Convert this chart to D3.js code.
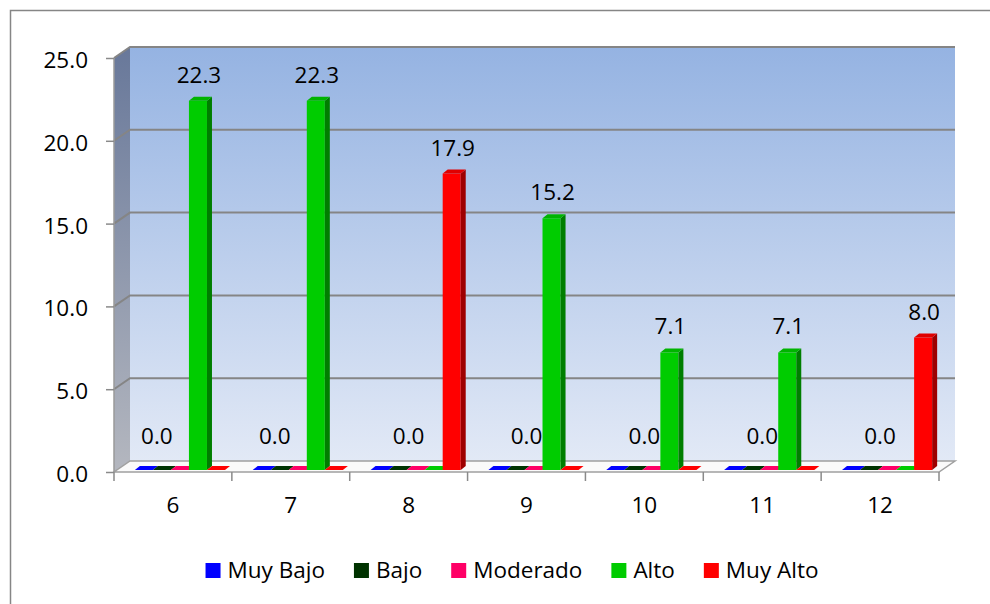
<!DOCTYPE html>
<html>
<head>
<meta charset="utf-8">
<script src="https://cdn.jsdelivr.net/npm/d3@7"></script>
<style>
  body { margin: 0; background: #fff; }
  svg text { font-family: "Open Sans", sans-serif; fill: #000; }
</style>
</head>
<body>
<svg id="chart" width="990" height="604"></svg>
<script>
// grados (categorias)
var categories = [ '6', '7', '8', '9', '10', '11', '12' ];
var seriesNames = [ 'Muy Bajo', 'Bajo', 'Moderado', 'Alto', 'Muy Alto' ];
var seriesColors = [ '#0000ff', '#003300', '#ff0066', '#00cc00', '#ff0000' ];
var muyBajo = [ 0, 0, 0, 0, 0, 0, 0 ];
var bajo = [ 0, 0, 0, 0, 0, 0, 0 ];
var moderado = [ 0, 0, 0, 0, 0, 0, 0 ];
var alto = [ 22.3, 22.3, 0, 15.2, 7.1, 7.1, 0 ];
var muyAlto = [ 0, 0, 17.9, 0, 0, 0, 8.0 ];
var yTicks = [ 0, 5, 10, 15, 20, 25 ];

var seriesValues = [ muyBajo, bajo, moderado, alto, muyAlto ];
var FS = 22.5;

var svg = d3.select( '#chart' );

// marco exterior
svg.append( 'rect' )
  .attr( 'x', 10.5 ).attr( 'y', 10.5 )
  .attr( 'width', 1200 ).attr( 'height', 800 )
  .attr( 'fill', '#fff' ).attr( 'stroke', '#868686' ).attr( 'stroke-width', 1.5 );

var x = d3.scaleBand().domain( categories ).range( [ 114, 939 ] );
var y = d3.scaleLinear().domain( [ 0, 25 ] ).range( [ 472, 58 ] );

// profundidad 3D
var DX = 16, DY = -11;

var defs = svg.append( 'defs' );
var wallGrad = defs.append( 'linearGradient' ).attr( 'id', 'wall' )
  .attr( 'x1', 0 ).attr( 'y1', 0 ).attr( 'x2', 0 ).attr( 'y2', 1 );
wallGrad.append( 'stop' ).attr( 'offset', '0%' ).attr( 'stop-color', '#95b3e2' );
wallGrad.append( 'stop' ).attr( 'offset', '100%' ).attr( 'stop-color', '#e2e9f6' );
var sideGrad = defs.append( 'linearGradient' ).attr( 'id', 'side' )
  .attr( 'x1', 0 ).attr( 'y1', 0 ).attr( 'x2', 0 ).attr( 'y2', 1 );
sideGrad.append( 'stop' ).attr( 'offset', '0%' ).attr( 'stop-color', '#68789a' );
sideGrad.append( 'stop' ).attr( 'offset', '100%' ).attr( 'stop-color', '#b4b7bf' );

var x0 = x.range()[ 0 ], x1 = x.range()[ 1 ];
var yTop = y( 25 ), yBot = y( 0 );

function poly( pts ) {
  return 'M' + pts.map( function ( p ) { return p[ 0 ] + ',' + p[ 1 ]; } ).join( 'L' ) + 'Z';
}

// pared del fondo
svg.append( 'path' )
  .attr( 'd', poly( [ [ x0 + DX, yTop + DY ], [ x1 + DX, yTop + DY ], [ x1 + DX, yBot + DY ], [ x0 + DX, yBot + DY ] ] ) )
  .attr( 'fill', 'url(#wall)' );

// pared lateral
svg.append( 'path' )
  .attr( 'd', poly( [ [ x0, yTop ], [ x0 + DX, yTop + DY ], [ x0 + DX, yBot + DY ], [ x0, yBot ] ] ) )
  .attr( 'fill', 'url(#side)' );

// piso
svg.append( 'path' )
  .attr( 'd', poly( [ [ x0, yBot ], [ x1, yBot ], [ x1 + DX, yBot + DY ], [ x0 + DX, yBot + DY ] ] ) )
  .attr( 'fill', '#fafafa' ).attr( 'stroke', '#a0a0a0' ).attr( 'stroke-width', 1.5 );

// lineas de division
yTicks.forEach( function ( t ) {
  if ( t === 0 ) return;
  svg.append( 'path' )
    .attr( 'd', 'M' + x0 + ',' + y( t ) + 'L' + ( x0 + DX ) + ',' + ( y( t ) + DY ) + 'L' + ( x1 + DX ) + ',' + ( y( t ) + DY ) )
    .attr( 'fill', 'none' ).attr( 'stroke', '#858585' ).attr( 'stroke-width', 2 );
} );

// eje Y
svg.append( 'line' )
  .attr( 'x1', x0 ).attr( 'x2', x0 ).attr( 'y1', yTop ).attr( 'y2', yBot )
  .attr( 'stroke', '#9a9a9a' ).attr( 'stroke-width', 1.5 );
var yAxis = svg.append( 'g' ).attr( 'transform', 'translate(' + x0 + ',0)' )
  .call( d3.axisLeft( y ).tickValues( yTicks ).tickFormat( d3.format( '.1f' ) ).tickSize( 8 ).tickPadding( 18 ) );
yAxis.select( '.domain' ).remove();
yAxis.selectAll( '.tick line' ).attr( 'stroke', '#8a8a8a' ).attr( 'stroke-width', 1.5 );
yAxis.selectAll( '.tick text' ).attr( 'font-size', FS ).attr( 'font-family', '"Open Sans"' ).attr( 'dy', '0.42em' );

// eje X
var xAxis = svg.append( 'g' ).attr( 'transform', 'translate(0,' + yBot + ')' )
  .call( d3.axisBottom( x ).tickSize( 0 ).tickPadding( 25 ) );
xAxis.select( '.domain' ).remove();
xAxis.selectAll( '.tick text' ).attr( 'font-size', FS ).attr( 'font-family', '"Open Sans"' );
var bounds = x.domain().map( function ( d ) { return x( d ); } ).concat( [ x1 ] );
svg.selectAll( '.xtick' ).data( bounds ).enter().append( 'line' )
  .attr( 'x1', function ( d ) { return d; } ).attr( 'x2', function ( d ) { return d; } )
  .attr( 'y1', yBot ).attr( 'y2', yBot + 9 )
  .attr( 'stroke', '#8a8a8a' ).attr( 'stroke-width', 1.5 );

// barras 3D
var bw = x.bandwidth();
var barW = bw * 0.153;
var offX = 3, offY = -2; // posicion de la barra en la profundidad
var dBx = 5, dBy = -4;   // grosor de la barra

function shade( c, k ) {
  var h = d3.hsl( c );
  h.l = h.l * k;
  return h.formatHex();
}

categories.forEach( function ( cat, ci ) {
  var gx = x( cat ) + ( bw - 5 * barW ) / 2 + 4 + offX;
  seriesValues.forEach( function ( vals, si ) {
    var v = vals[ ci ];
    var bx = gx + si * barW;
    var by0 = y( 0 ) + offY;
    var by1 = y( v ) + offY;
    var col = seriesColors[ si ];
    var g = svg.append( 'g' );
    if ( v > 0 ) {
      g.append( 'path' )
        .attr( 'd', poly( [ [ bx, by1 ], [ bx + barW, by1 ], [ bx + barW, by0 ], [ bx, by0 ] ] ) )
        .attr( 'fill', col );
      g.append( 'path' )
        .attr( 'd', poly( [ [ bx + barW, by1 ], [ bx + barW + dBx, by1 + dBy ], [ bx + barW + dBx, by0 + dBy ], [ bx + barW, by0 ] ] ) )
        .attr( 'fill', shade( col, 0.62 ) );
    }
    g.append( 'path' )
      .attr( 'd', poly( [ [ bx, by1 ], [ bx + dBx, by1 + dBy ], [ bx + barW + dBx, by1 + dBy ], [ bx + barW, by1 ] ] ) )
      .attr( 'fill', v > 0 ? shade( col, 0.88 ) : col );
  } );
} );

// etiquetas de datos
categories.forEach( function ( cat, ci ) {
  var gx = x( cat ) + ( bw - 5 * barW ) / 2 + 4 + offX;
  var zeroDone = false;
  seriesValues.forEach( function ( vals, si ) {
    var v = vals[ ci ];
    if ( v > 0 ) {
      svg.append( 'text' )
        .attr( 'x', gx + si * barW + barW / 2 + 1 )
        .attr( 'y', y( v ) + offY + dBy - 14 )
        .attr( 'text-anchor', 'middle' ).attr( 'font-size', FS )
        .text( d3.format( '.1f' )( v ) );
    } else if ( !zeroDone ) {
      zeroDone = true;
      svg.append( 'text' )
        .attr( 'x', x( cat ) + bw / 2 - ( ci < 2 ? 16 : 0 ) )
        .attr( 'y', y( 0 ) - 28 )
        .attr( 'text-anchor', 'middle' ).attr( 'font-size', FS )
        .text( d3.format( '.1f' )( 0 ) );
    }
  } );
} );

// leyenda
var legend = svg.append( 'g' );
var lx = 0;
seriesNames.forEach( function ( name, i ) {
  var item = legend.append( 'g' ).attr( 'transform', 'translate(' + lx + ',0)' );
  item.append( 'rect' ).attr( 'x', 0 ).attr( 'y', 563 ).attr( 'width', 15 ).attr( 'height', 15 )
    .attr( 'fill', seriesColors[ i ] );
  var t = item.append( 'text' ).attr( 'x', 22 ).attr( 'y', 578 ).attr( 'font-size', FS ).text( name );
  lx += 22 + t.node().getComputedTextLength() + 29;
} );
lx -= 29;
legend.attr( 'transform', 'translate(' + ( 512 - lx / 2 ) + ',0)' );
</script>
</body>
</html>
